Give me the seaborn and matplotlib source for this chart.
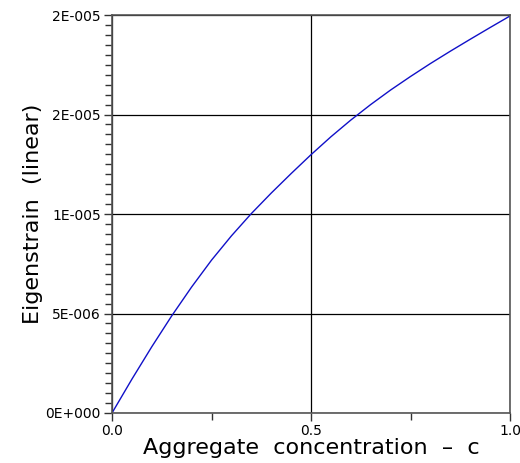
import matplotlib
matplotlib.use('Agg')
from matplotlib import pyplot as plt
from matplotlib.ticker import FixedLocator, MultipleLocator
import pandas as pd
import seaborn as sns

# values
conc = [0.0, 0.05, 0.1, 0.15, 0.2, 0.25, 0.3, 0.35, 0.4, 0.45, 0.5,
        0.55, 0.6, 0.65, 0.7, 0.75, 0.8, 0.85, 0.9, 0.95, 1.0]
strain = [0.0, 1.70e-6, 3.33e-6, 4.88e-6, 6.33e-6, 7.68e-6, 8.90e-6, 1.002e-5,
          1.105e-5, 1.203e-5, 1.298e-5, 1.388e-5, 1.472e-5, 1.550e-5, 1.623e-5,
          1.691e-5, 1.756e-5, 1.818e-5, 1.878e-5, 1.937e-5, 1.995e-5]
y_ticks = [0.0, 5e-6, 1e-5, 1.5e-5, 2e-5]
y_tick_labels = ["0E+000", "5E-006", "1E-005", "2E-005", "2E-005"]
x_ticks = [0.0, 0.5, 1.0]
x_tick_labels = ["0.0", "0.5", "1.0"]

df = pd.DataFrame({"c": conc, "eps": strain})

sns.set_style("white")
plt.rcParams['font.family'] = ['DejaVu Sans']
plt.rcParams['text.color'] = 'black'
plt.rcParams['axes.labelcolor'] = 'black'
plt.rcParams['xtick.color'] = 'black'
plt.rcParams['ytick.color'] = 'black'

fig = plt.figure(figsize=(5.2, 4.63), dpi=100)
ax = fig.add_axes([112 / 520, 50 / 463, 398 / 520, 398 / 463])

sns.lineplot(data=df, x="c", y="eps", ax=ax, color="#1010c8", linewidth=1.0)

ax.set_xlim(0, 1)
ax.set_ylim(0, 2e-5)

ax.xaxis.set_major_locator(FixedLocator(x_ticks))
ax.set_xticklabels(x_tick_labels)
ax.xaxis.set_minor_locator(FixedLocator([0.25, 0.75]))
ax.yaxis.set_major_locator(FixedLocator(y_ticks))
ax.set_yticklabels(y_tick_labels)
ax.yaxis.set_minor_locator(MultipleLocator(5e-7))

ax.tick_params(axis='both', which='both', direction='out', color='#333333',
               labelsize=10, width=1, bottom=True, left=True)
ax.tick_params(axis='both', which='major', length=6, pad=2)
ax.tick_params(axis='both', which='minor', length=5)

ax.grid(True, which='major', color='black', linewidth=0.9)
for s in ax.spines.values():
    s.set_color('#555555')
    s.set_linewidth(1.2)

ax.set_xlabel("Aggregate  concentration  \u2013  c", fontsize=16, labelpad=0)
ax.set_ylabel("Eigenstrain  (linear)", fontsize=16, labelpad=2)

fig.savefig("out.png", dpi=100)
